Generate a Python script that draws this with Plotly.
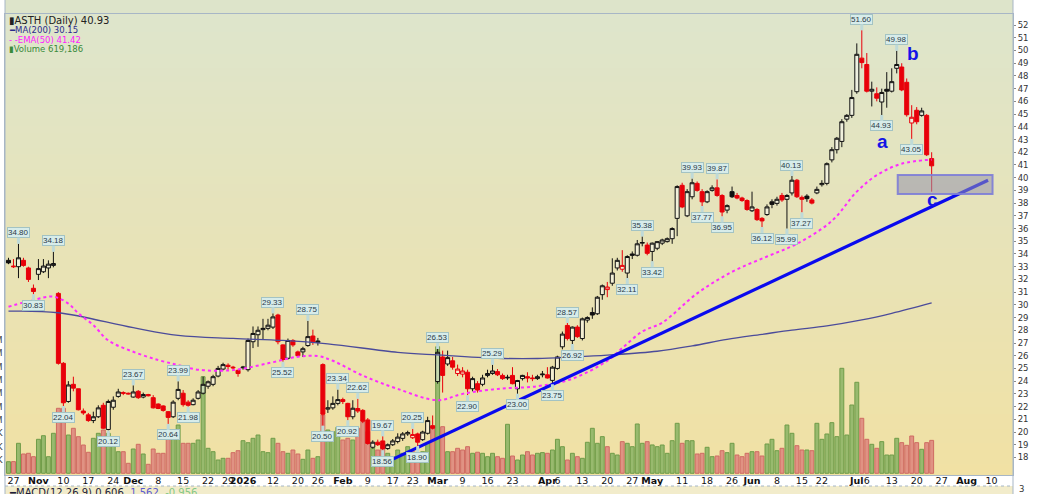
import base64
import struct
import zlib

import pandas as pd
import plotly.graph_objects as go

# ---------------- data ----------------
# exchange holidays inside the window (x axis is in trading days)
holidays = ["2025-11-27", "2025-12-25", "2026-01-01", "2026-01-19", "2026-02-16",
            "2026-04-03", "2026-05-25", "2026-06-19", "2026-07-03"]
first_day = "2025-10-24"
last_axis_day = "2026-08-14"

op = [33.5, 33.05, 33.0, 33.5, 32.9, 31.3, 32.4, 32.6, 32.9, 33.1,
      30.9, 25.4, 22.4, 23.75, 23.4, 21.65, 21.35, 20.9, 21.2, 22.1,
      20.2, 21.95, 22.8, 23.1, 23.05, 22.75, 23.2, 22.75, 22.95, 22.7,
      22.2, 22.05, 21.6, 21.2, 22.65, 23.05, 22.35, 22.15, 22.65, 23.05,
      23.6, 23.75, 24.4, 24.95, 25.25, 25.1, 24.85, 25.05, 24.9, 27.1,
      27.65, 28.05, 28.15, 28.25, 29.2, 26.85, 25.8, 27.2, 26.3, 26.3,
      26.8, 27.55, 27.05, 25.3, 21.8, 21.9, 22.25, 22.55, 22.25, 21.2,
      21.85, 21.7, 20.95, 18.8, 19.2, 19.3, 18.7, 19.0, 19.25, 19.5,
      19.85, 19.55, 19.85, 19.4, 19.9, 20.5, 23.97, 25.9, 25.35, 25.6,
      24.6, 24.55, 24.7, 23.4, 23.8, 23.75, 24.45, 24.6, 24.75, 24.45,
      24.25, 24.45, 23.4, 24.2, 24.35, 24.25, 24.2, 24.5, 24.5, 24.06,
      25.0, 26.7, 28.38, 27.2, 28.25, 27.35, 28.8, 29.4, 29.3, 30.8,
      31.2, 31.7, 32.9, 32.8, 32.5, 34.0, 33.9, 34.85, 34.7, 34.2,
      34.45, 34.85, 34.97, 35.2, 36.8, 39.4, 37.0, 38.5, 39.55, 38.9,
      38.1, 39.0, 39.2, 38.6, 37.45, 38.9, 38.6, 38.4, 38.2, 37.4,
      37.5, 36.8, 37.1, 38.1, 37.98, 38.6, 38.3, 38.8, 39.8, 38.45,
      38.55, 38.25, 38.8, 39.45, 39.55, 41.4, 42.2, 42.85, 44.6, 44.9,
      46.76, 49.4, 48.9, 46.8, 46.6, 45.95, 46.95, 46.8, 48.6, 48.7,
      47.5, 44.3, 45.3, 44.9, 44.9, 41.5]
hi = [33.7, 33.6, 34.80, 33.7, 33.0, 31.6, 33.6, 33.6, 33.5, 34.18,
      31.0, 25.5, 24.0, 24.35, 23.4, 21.85, 21.5, 21.6, 22.1, 22.3,
      22.55, 22.8, 23.4, 23.2, 23.1, 23.67, 23.3, 23.1, 23.0, 22.9,
      22.25, 22.1, 21.65, 22.5, 23.99, 23.3, 22.5, 22.65, 23.3, 24.35,
      24.05, 24.5, 25.2, 25.45, 25.4, 25.2, 24.9, 25.2, 27.35, 28.3,
      28.3, 28.9, 28.9, 29.33, 29.3, 26.9, 27.35, 27.3, 26.4, 26.7,
      28.75, 28.05, 27.4, 25.4, 22.5, 22.8, 23.34, 22.7, 22.3, 22.5,
      22.62, 21.8, 21.1, 19.35, 19.4, 19.67, 19.1, 19.45, 19.9, 20.0,
      20.1, 20.25, 19.95, 20.1, 21.2, 21.3, 26.53, 26.4, 26.4, 25.9,
      25.3, 25.1, 24.9, 24.35, 24.0, 24.5, 24.9, 25.29, 24.95, 24.6,
      24.5, 25.1, 24.1, 24.5, 24.7, 24.5, 24.5, 24.8, 25.1, 25.2,
      26.0, 27.9, 28.57, 28.3, 28.4, 29.0, 29.1, 29.8, 30.7, 31.6,
      31.8, 33.66, 33.7, 34.3, 33.9, 34.2, 35.1, 35.38, 34.9, 34.9,
      35.0, 35.2, 35.3, 36.1, 39.4, 39.6, 39.1, 39.93, 39.7, 39.1,
      39.0, 39.4, 39.87, 38.7, 37.9, 39.3, 38.8, 38.5, 38.3, 38.9,
      37.6, 36.9, 37.9, 38.3, 38.5, 38.8, 38.7, 40.13, 39.9, 38.6,
      38.7, 38.4, 39.3, 39.8, 41.2, 42.4, 43.2, 44.6, 45.0, 46.9,
      50.56, 51.60, 49.8, 47.55, 47.1, 47.0, 48.3, 48.6, 49.98, 49.0,
      47.8, 45.7, 45.55, 45.5, 45.0, 42.0]
lo = [33.2, 32.9, 32.1, 33.0, 31.8, 30.83, 31.95, 32.5, 32.1, 32.95,
      25.3, 22.04, 22.3, 23.2, 21.7, 21.35, 20.8, 20.7, 21.1, 20.25,
      20.12, 21.75, 22.7, 22.9, 22.95, 22.7, 22.6, 22.65, 22.8, 21.85,
      21.8, 21.6, 20.64, 21.1, 22.5, 22.0, 21.98, 22.1, 22.55, 22.95,
      23.4, 23.6, 24.3, 24.85, 24.9, 24.95, 24.35, 24.9, 24.75, 26.6,
      26.7, 27.25, 28.0, 28.1, 26.9, 25.52, 25.7, 26.7, 25.9, 25.9,
      26.7, 26.85, 26.8, 20.50, 21.5, 21.75, 22.1, 22.2, 20.92, 21.0,
      21.5, 20.7, 19.0, 18.7, 18.9, 18.56, 18.6, 18.9, 19.1, 19.3,
      19.7, 19.45, 18.90, 19.3, 19.8, 20.2, 23.8, 23.1, 25.2, 24.9,
      24.4, 24.3, 22.90, 23.2, 23.1, 23.6, 24.3, 24.5, 24.4, 24.1,
      24.1, 23.75, 23.00, 24.05, 23.9, 24.0, 24.1, 24.3, 24.2, 23.75,
      24.9, 26.5, 27.2, 26.92, 27.4, 27.2, 28.6, 28.9, 29.2, 30.4,
      30.6, 31.5, 32.7, 32.6, 32.11, 33.6, 33.8, 34.6, 33.9, 33.42,
      34.3, 34.7, 34.9, 34.8, 35.4, 37.6, 36.9, 38.3, 38.9, 37.77,
      38.0, 38.9, 38.5, 36.95, 37.2, 38.4, 38.3, 38.1, 37.4, 37.3,
      36.6, 36.12, 37.0, 37.6, 37.8, 38.1, 35.99, 38.6, 38.4, 37.27,
      38.1, 37.9, 38.7, 39.3, 39.4, 41.2, 41.9, 42.4, 44.4, 44.7,
      46.6, 48.6, 46.7, 45.6, 46.0, 44.93, 45.5, 46.7, 48.2, 46.8,
      44.8, 43.05, 44.2, 44.8, 41.7, 38.9]
cl = [33.3, 33.0, 33.7, 33.1, 32.0, 31.05, 32.85, 33.05, 33.2, 33.25,
      25.4, 22.3, 23.7, 23.45, 21.75, 21.5, 20.9, 21.2, 21.9, 20.3,
      22.4, 22.5, 23.15, 23.05, 23.0, 23.15, 22.7, 22.95, 22.85, 21.9,
      21.85, 21.7, 21.15, 22.35, 23.35, 22.15, 22.1, 22.5, 23.15, 23.75,
      23.95, 24.35, 25.0, 25.3, 25.15, 25.05, 24.6, 25.1, 27.2, 27.75,
      28.0, 28.15, 28.4, 29.05, 27.1, 25.7, 27.2, 26.85, 26.0, 26.55,
      27.5, 27.1, 27.15, 21.4, 21.9, 22.25, 22.55, 22.4, 21.2, 21.87,
      21.65, 20.85, 19.1, 19.2, 19.0, 18.7, 19.0, 19.3, 19.6, 19.85,
      19.95, 19.8, 19.2, 20.0, 20.9, 20.3, 26.27, 24.45, 25.85, 25.1,
      24.95, 24.8, 23.4, 24.2, 23.3, 24.25, 24.6, 24.8, 24.5, 24.2,
      24.3, 23.8, 24.05, 24.45, 24.25, 24.2, 24.35, 24.55, 24.25, 25.1,
      25.9, 27.7, 27.35, 28.25, 27.5, 28.9, 29.0, 29.2, 30.6, 31.5,
      31.4, 32.5, 33.5, 33.1, 33.8, 33.9, 34.8, 34.9, 34.05, 34.85,
      34.97, 35.1, 35.2, 36.0, 39.3, 37.7, 38.9, 39.6, 39.0, 38.1,
      38.9, 39.2, 38.6, 37.3, 37.8, 38.5, 38.4, 38.2, 37.5, 37.7,
      36.7, 36.6, 37.7, 37.9, 38.3, 38.25, 38.6, 39.8, 38.5, 38.3,
      38.35, 38.0, 39.08, 39.55, 41.1, 42.2, 43.1, 44.4, 44.9, 46.3,
      49.7, 49.05, 46.8, 46.95, 46.25, 46.7, 46.8, 47.55, 48.9, 46.9,
      44.95, 44.75, 44.4, 45.25, 41.8, 40.93]
# volume in thousands of shares
vol = [218, 220, 564, 363, 376, 312, 639, 707, 312, 752,
       1222, 1222, 720, 846, 688, 532, 395, 658, 752, 814,
       752, 532, 406, 406, 188, 457, 545, 363, 169, 457,
       376, 376, 658, 640, 908, 564, 564, 564, 626, 1816,
       470, 406, 250, 282, 282, 388, 425, 613, 575, 658,
       720, 406, 388, 658, 564, 406, 376, 438, 363, 263,
       438, 282, 312, 1096, 814, 782, 865, 626, 658, 626,
       846, 970, 782, 470, 438, 564, 376, 312, 438, 376,
       500, 406, 376, 406, 560, 846, 2380, 876, 406, 406,
       470, 438, 500, 376, 396, 376, 312, 376, 312, 282,
       921, 325, 250, 344, 406, 344, 376, 389, 376, 438,
       639, 500, 250, 376, 312, 282, 583, 846, 564, 689,
       500, 376, 344, 595, 564, 500, 927, 564, 595, 533,
       500, 532, 376, 613, 940, 564, 613, 613, 363, 376,
       489, 312, 325, 425, 388, 564, 344, 312, 376, 406,
       406, 325, 551, 639, 425, 470, 908, 752, 519, 438,
       438, 425, 940, 639, 739, 952, 689, 1974, 720, 1284,
       1711, 1034, 639, 545, 470, 595, 344, 344, 658, 576,
       526, 701, 576, 451, 576, 619.186]

# moving averages, sampled along the curves (trading-day index, value)
ma200_day = [0, 10, 25, 34, 45, 55, 64, 78, 86, 98, 106, 113, 120, 130, 137, 144,
             151, 157, 164, 171, 177, 185]
ma200_val = [29.5, 29.38, 28.2, 27.6, 27.36, 27.2, 26.93, 26.27, 26.06, 25.8, 25.78,
             25.9, 26.05, 26.35, 26.77, 27.29, 27.68, 28.02, 28.34, 28.81, 29.33, 30.15]
ema50_day = [0, 5, 9, 12, 14, 17, 20, 25, 30, 34, 38, 45, 52, 58, 62, 65, 71, 78, 86,
             91, 98, 106, 113, 120, 123, 127, 131, 138, 145, 152, 158, 165, 170, 174,
             179, 185]
ema50_val = [29.85, 30.38, 30.64, 30.1, 29.33, 28.41, 27.2, 26.31, 25.66, 25.27, 24.9,
             24.87, 25.4, 25.92, 25.97, 25.6, 24.44, 23.39, 22.5, 23.0, 23.39, 23.6,
             24.19, 25.6, 26.6, 27.9, 28.6, 30.9, 32.6, 33.8, 34.8, 36.6, 38.9, 40.2,
             41.1, 41.42]

# days carrying a swing-high / swing-low price tag
high_marks = [2, 9, 25, 34, 53, 60, 66, 70, 75, 81, 86, 97, 112, 127, 137, 142, 157, 171, 178]
low_marks = [5, 11, 20, 32, 36, 55, 63, 68, 75, 82, 92, 102, 109, 113, 124, 129, 139,
             143, 151, 156, 159, 175, 181]

# hand-drawn annotations
trend_day = [76.4, 196.3]
trend_px = [17.75, 39.8]
zone_day = [178.2, 197.2]
zone_px = [38.71, 40.21]
wave_lbl = ["a", "b", "c"]
wave_day = [175.2, 181.3, 185.2]
wave_px = [42.83, 49.8, 38.3]

tick_dates = ["2025-10-27", "2025-11-03", "2025-11-10", "2025-11-17", "2025-11-24",
              "2025-12-01", "2025-12-08", "2025-12-15", "2025-12-22", "2025-12-29",
              "2026-01-02", "2026-01-12", "2026-01-20", "2026-01-26", "2026-02-02",
              "2026-02-09", "2026-02-17", "2026-02-23", "2026-03-02", "2026-03-09",
              "2026-03-16", "2026-03-23", "2026-04-01", "2026-04-06", "2026-04-13",
              "2026-04-20", "2026-04-27", "2026-05-01", "2026-05-11", "2026-05-18",
              "2026-05-26", "2026-06-01", "2026-06-08", "2026-06-15", "2026-06-22",
              "2026-07-01", "2026-07-06", "2026-07-13", "2026-07-20", "2026-07-27",
              "2026-08-03", "2026-08-10"]
tick_text = ["27", "<b>Nov</b>", "10", "17", "24", "<b>Dec</b>", "8", "15", "22", "29",
             "<b>2026</b>", "12", "20", "26", "<b>Feb</b>", "9", "17", "23", "<b>Mar</b>", "9",
             "16", "23", "<b>Apr</b>", "6", "13", "20", "27", "<b>May</b>", "11", "18",
             "26", "<b>Jun</b>", "8", "15", "22", "<b>Jul</b>", "6", "13", "20", "27",
             "<b>Aug</b>", "10"]

price_ticks = list(range(18, 53))
vol_ticks = [250, 500, 750, 1000, 1250, 1500, 1750, 2000, 2250, 2500]
vol_tick_text = ["250K", "500K", "750K", "1.0M", "1.25M", "1.5M", "1.75M", "2.0M", "2.25M", "2.5M"]


# vertical gradient for the panel background, as a tiny png
def gradient_png(top, bottom, h=64):
    rows = b""
    for r in range(h):
        t = r / (h - 1)
        rows += b"\x00" + bytes(round(top[j] + (bottom[j] - top[j]) * t) for j in range(3))

    def chunk(tag, data):
        return (struct.pack(">I", len(data)) + tag + data
                + struct.pack(">I", zlib.crc32(tag + data) & 0xffffffff))

    png = (b"\x89PNG\r\n\x1a\n"
           + chunk(b"IHDR", struct.pack(">IIBBBBB", 1, h, 8, 2, 0, 0, 0))
           + chunk(b"IDAT", zlib.compress(rows))
           + chunk(b"IEND", b""))
    return "data:image/png;base64," + base64.b64encode(png).decode()


# ---------------- build ----------------
cal = pd.date_range(first_day, last_axis_day, freq=pd.offsets.CustomBusinessDay(holidays=holidays))
day_of = {d.strftime("%Y-%m-%d"): i for i, d in enumerate(cal)}
tick_vals = [day_of[d] for d in tick_dates]

days = list(range(len(cl)))
up = [True] + [cl[i] >= cl[i - 1] for i in range(1, len(cl))]

x_rng = [-0.7, 201.3]
px_rng = [16.62, 52.87]
vol_rng = [-32, 8635]
axis_col = "#a7b6c6"

fig = go.Figure()

# volume overlay
fig.add_trace(go.Bar(
    x=days, y=vol, width=0.78, yaxis="y", hoverinfo="skip", showlegend=False,
    marker=dict(color=["rgba(142,182,104,0.9)" if u else "rgba(222,138,128,0.9)" for u in up],
                line=dict(color=["#6f9c48" if u else "#cf6b62" for u in up], width=1))))

# moving averages
fig.add_trace(go.Scatter(x=ma200_day, y=ma200_val, mode="lines", yaxis="y2",
                         line=dict(color="#4b4b9a", width=1.3, shape="spline"),
                         hoverinfo="skip", showlegend=False))
fig.add_trace(go.Scatter(x=ema50_day, y=ema50_val, mode="lines", yaxis="y2",
                         line=dict(color="#ff2bff", width=2, dash="dot", shape="spline"),
                         hoverinfo="skip", showlegend=False))


def candles(idx, color):
    return go.Candlestick(
        x=idx, open=[op[i] for i in idx], high=[hi[i] for i in idx],
        low=[lo[i] for i in idx], close=[cl[i] for i in idx],
        increasing=dict(line=dict(color=color, width=1), fillcolor="rgba(255,255,255,0.45)"),
        decreasing=dict(line=dict(color=color, width=1), fillcolor=color),
        whiskerwidth=0, yaxis="y2", hoverinfo="skip", showlegend=False)


fig.add_trace(candles([i for i in days if up[i]], "#111111"))
fig.add_trace(candles([i for i in days if not up[i]], "#e8000a"))

# trend line
fig.add_trace(go.Scatter(x=trend_day, y=trend_px, mode="lines", yaxis="y2",
                         line=dict(color="#0a0aee", width=3.2),
                         hoverinfo="skip", showlegend=False))

shapes = [
    dict(type="rect", xref="x", yref="y2", x0=zone_day[0], x1=zone_day[1], y0=zone_px[0], y1=zone_px[1],
         fillcolor="rgba(150,148,172,0.55)", line=dict(color="rgba(125,125,215,0.9)", width=2), layer="above"),
    # strip of the panel above
    dict(type="rect", xref="paper", yref="paper", x0=0, x1=1, y0=1, y1=1.035,
         fillcolor="#dde4ca", line=dict(width=0), layer="below"),
    # top of the MACD panel below
    dict(type="rect", xref="paper", yref="paper", x0=0, x1=1, y0=-0.045, y1=-0.0239,
         fillcolor="#f2eccb", line=dict(width=0), layer="below"),
    dict(type="line", xref="paper", yref="paper", x0=0, x1=1, y0=-0.0239, y1=-0.0239,
         line=dict(color=axis_col, width=1, dash="dot")),
    dict(type="line", xref="paper", yref="paper", x0=1, x1=1, y0=-0.045, y1=1.035,
         line=dict(color=axis_col, width=1)),
    dict(type="line", xref="paper", yref="paper", x0=0, x1=0, y0=-0.045, y1=1.035,
         line=dict(color=axis_col, width=1)),
]

ann = []
for i in high_marks:
    ann.append(dict(x=i, y=hi[i], xref="x", yref="y2", text=f"{hi[i]:.2f}", showarrow=True,
                    ax=0, ay=-11, arrowhead=0, arrowwidth=3, arrowcolor="#bfdad8", standoff=0,
                    bgcolor="#d7ecea", bordercolor="#a3c3c3", borderwidth=1, borderpad=0,
                    font=dict(family="Liberation Sans", size=8, color="#2b3a48")))
for i in low_marks:
    ann.append(dict(x=i, y=lo[i], xref="x", yref="y2", text=f"{lo[i]:.2f}", showarrow=True,
                    ax=0, ay=11, arrowhead=0, arrowwidth=3, arrowcolor="#bfdad8", standoff=0,
                    bgcolor="#d7ecea", bordercolor="#a3c3c3", borderwidth=1, borderpad=0,
                    font=dict(family="Liberation Sans", size=8, color="#2b3a48")))
for t, d, p in zip(wave_lbl, wave_day, wave_px):
    ann.append(dict(x=d, y=p, xref="x", yref="y2", text=f"<b>{t}</b>", showarrow=False,
                    font=dict(family="Liberation Sans", size=19, color="#1414e6")))

legend_lines = [
    ("▮ASTH (Daily) 40.93", "#222222", 10, -6.7),
    ("━MA(200) 30.15", "#2b2b8c", 8.5, -16.3),
    ("- -EMA(50) 41.42", "#ff1aff", 8.5, -25.7),
    ("▮Volume 619,186", "#3a8a3a", 8.5, -34.7),
]
for txt, col, sz, dy in legend_lines:
    ann.append(dict(x=0, y=1, xref="paper", yref="paper", xanchor="left", yanchor="middle",
                    xshift=2, yshift=dy, text=txt, showarrow=False,
                    font=dict(family="DejaVu Sans", size=sz, color=col)))

ann.append(dict(x=0, y=0, xref="paper", yref="paper", xanchor="left", yanchor="middle",
                xshift=2, yshift=-17,
                text='<span style="color:#1d1d3a">━MACD(12,26,9) 0.606,</span> '
                     '<span style="color:#5a5ad2">1.562,</span> '
                     '<span style="color:#86c886">-0.956</span>',
                showarrow=False, font=dict(family="DejaVu Sans", size=10)))
ann.append(dict(x=1, y=0, xref="paper", yref="paper", xanchor="left", yanchor="middle",
                xshift=4, yshift=-14, text="3", showarrow=False,
                font=dict(family="DejaVu Sans", size=8.5, color="#333333")))

fig.update_layout(
    width=1047, height=494, template="none",
    margin=dict(l=5, r=34, t=14, b=19, pad=0),
    paper_bgcolor="white", plot_bgcolor="rgba(0,0,0,0)",
    showlegend=False, hovermode=False,
    font=dict(family="DejaVu Sans", size=9, color="#222222"),
    boxgap=0.15, boxgroupgap=0.05,
    shapes=shapes, annotations=ann,
    images=[dict(source=gradient_png((222, 229, 204), (241, 225, 164)), xref="paper", yref="paper",
                 x=0, y=1, sizex=1, sizey=1, sizing="stretch", xanchor="left", yanchor="top",
                 layer="below")],
    xaxis=dict(range=x_rng, tickmode="array", tickvals=tick_vals, ticktext=tick_text,
               showgrid=False, zeroline=False, showline=True, linecolor=axis_col, mirror=True,
               ticks="", tickangle=0, ticklabelstandoff=-3,
               tickfont=dict(family="DejaVu Sans", size=9.5, color="#111111"),
               rangeslider=dict(visible=False), automargin=False, fixedrange=True),
    yaxis=dict(range=vol_rng, side="left", tickmode="array", tickvals=vol_ticks, ticktext=vol_tick_text,
               showgrid=False, zeroline=False, showline=True, linecolor=axis_col, mirror=True,
               ticks="", tickfont=dict(family="DejaVu Sans", size=8, color="#333333"),
               automargin=False, fixedrange=True),
    yaxis2=dict(range=px_rng, overlaying="y", side="right", tickmode="array", tickvals=price_ticks,
                showgrid=False, zeroline=False, showline=False, ticks="outside", ticklen=2,
                tickcolor="#8a8a8a", tickfont=dict(family="DejaVu Sans", size=8.5, color="#333333"),
                automargin=False, fixedrange=True),
)

# the page's default body margin would shift the chart off its frame
fig.write_html("out.html", config={"displayModeBar": False},
               post_script="document.body.style.margin='0';")
